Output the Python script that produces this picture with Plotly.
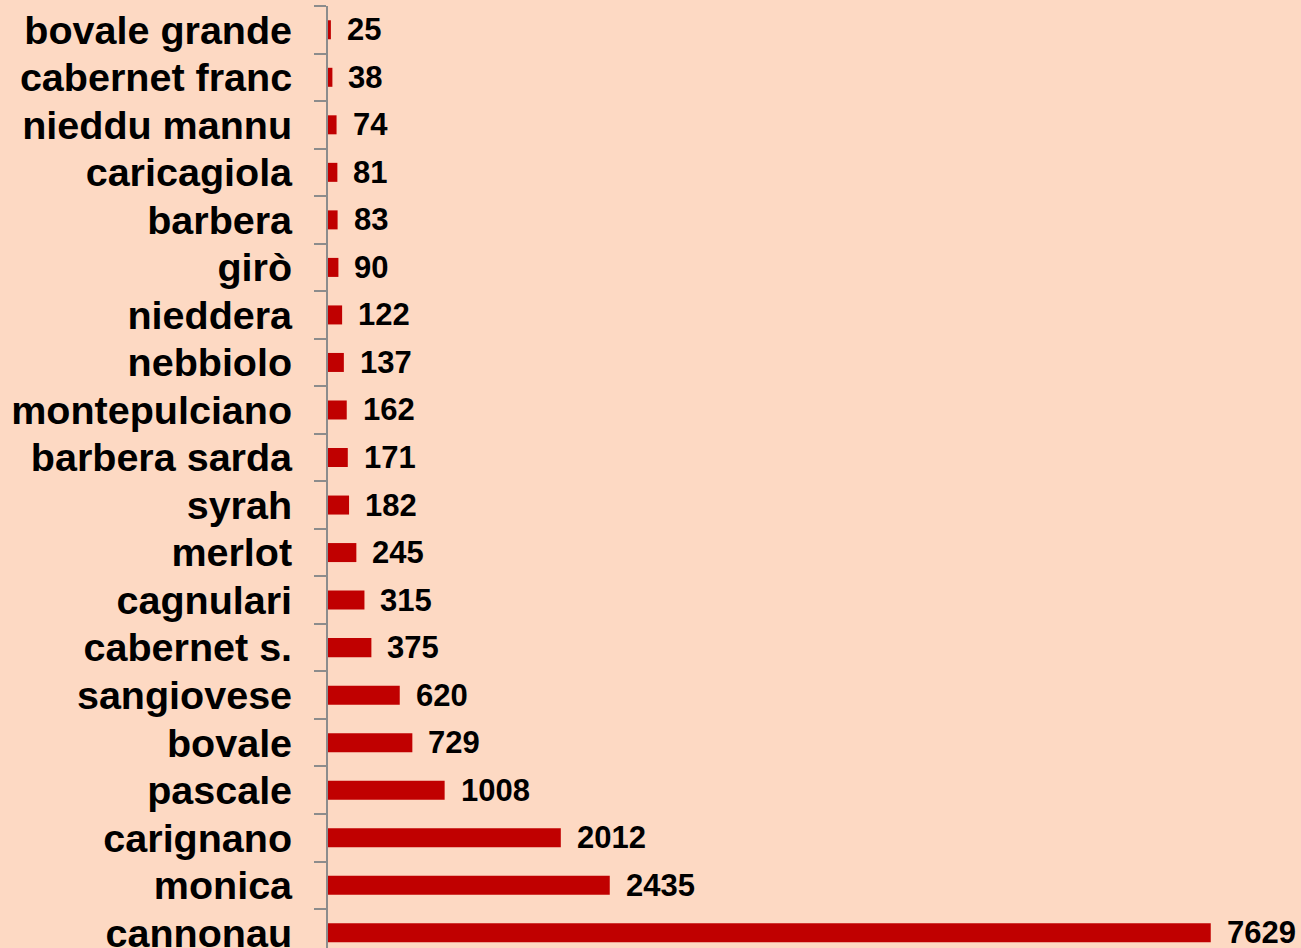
import plotly.graph_objects as go

categories = ["bovale grande", "cabernet franc", "nieddu mannu", "caricagiola", "barbera",
              "girò", "nieddera", "nebbiolo", "montepulciano", "barbera sarda", "syrah",
              "merlot", "cagnulari", "cabernet s.", "sangiovese", "bovale", "pascale",
              "carignano", "monica", "cannonau"]
values = [25, 38, 74, 81, 83, 90, 122, 137, 162, 171, 182, 245, 315, 375, 620, 729,
          1008, 2012, 2435, 7629]

# bottom-to-top order for plotly
cats_b = categories[::-1]
vals_b = values[::-1]

BG = "#FDD9C3"
FONT = "Liberation Sans, Arial, sans-serif"

fig = go.Figure()
fig.add_trace(go.Bar(
    x=vals_b, y=cats_b, orientation="h",
    marker=dict(color="#C00000", line=dict(width=0)),
    width=0.4,
    hoverinfo="skip",
))

for c, v in zip(cats_b, vals_b):
    fig.add_annotation(
        x=v, y=c, text=str(v), showarrow=False,
        xanchor="left", yanchor="middle", xshift=14,
        font=dict(family=FONT, size=31, color="#000000", weight="bold"),
    )

fig.update_layout(
    width=1301, height=948,
    margin=dict(l=328, r=0, t=6, b=0, autoexpand=False),
    paper_bgcolor=BG, plot_bgcolor=BG,
    showlegend=False,
    xaxis=dict(range=[0, 8409], visible=False, showgrid=False, zeroline=False,
               automargin=False),
    yaxis=dict(
        type="category", categoryorder="array", categoryarray=cats_b,
        range=[-0.32, 19.5], automargin=False,
        showline=True, linecolor="#8C8C8C", linewidth=2,
        ticks="outside", tickson="boundaries", ticklen=12, tickcolor="#8C8C8C", tickwidth=2,
        showgrid=False, zeroline=False,
        tickfont=dict(family=FONT, size=39.5, color="#000000", weight="bold"),
        ticklabelstandoff=26,
    ),
    bargap=0.6,
)

fig.write_html("out.html",
               config={"displayModeBar": False},
               post_script="document.body.style.margin='0';document.body.style.background='" + BG + "';")
